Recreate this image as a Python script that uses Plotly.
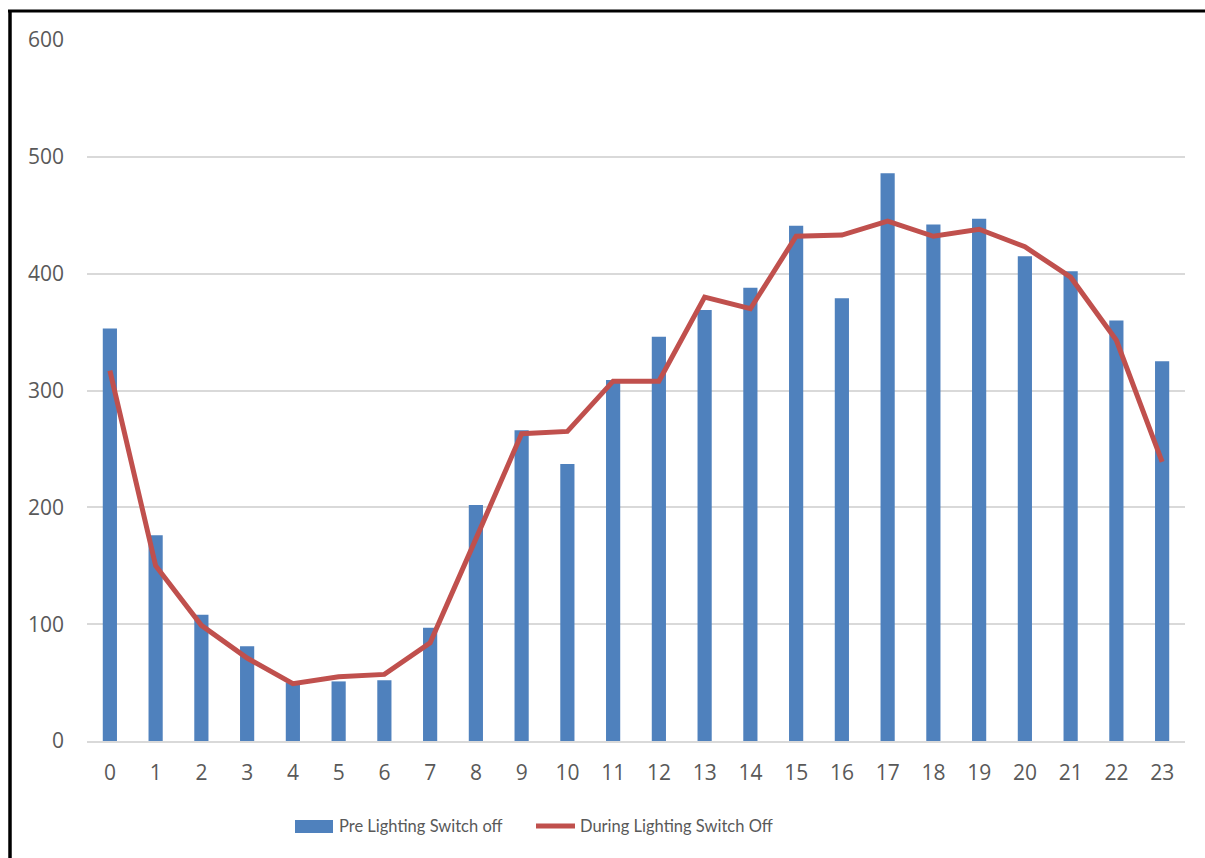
import plotly.graph_objects as go

hours = [str(h) for h in range(24)]
pre_switch_off = [353, 176, 108, 81, 50, 51, 52, 97, 202, 266, 237, 309,
                  346, 369, 388, 441, 379, 486, 442, 447, 415, 402, 360, 325]
during_switch_off = [317, 150, 99, 71, 49, 55, 57, 84, 173, 263, 265, 308,
                     308, 380, 370, 432, 433, 445, 432, 438, 423, 397, 343, 239]
y_ticks = [0, 100, 200, 300, 400, 500, 600]

BAR_NAME = "Pre Lighting Switch off"
LINE_NAME = "During Lighting Switch Off"
BLUE = "#4f81bd"
RED = "#c0504d"
TEXT = "#595959"
TICK_FONT = "Open Sans, Noto Sans, sans-serif"
LEGEND_FONT = "Lato, sans-serif"

W, H = 1205, 858
L, R, T, B = 87, 20, 40, 117
PW, PH = W - L - R, H - T - B


def px(x):
    return (x - L) / PW


def py(y):
    return (H - B - y) / PH


fig = go.Figure()
fig.add_trace(go.Bar(x=hours, y=pre_switch_off, name=BAR_NAME,
                     marker=dict(color=BLUE, line=dict(width=0)),
                     width=0.31, showlegend=False))
fig.add_trace(go.Scatter(x=hours, y=during_switch_off, name=LINE_NAME,
                         mode="lines", line=dict(color=RED, width=5),
                         showlegend=False))

shapes = [
    # outer frame (left and top edges)
    dict(type="line", xref="paper", yref="paper", x0=px(10), x1=px(10),
         y0=py(11), y1=py(900), line=dict(color="black", width=3.5)),
    dict(type="line", xref="paper", yref="paper", x0=px(8), x1=px(1240),
         y0=py(11), y1=py(11), line=dict(color="black", width=3)),
    # legend keys
    dict(type="rect", xref="paper", yref="paper", x0=px(295), x1=px(333),
         y0=py(833), y1=py(820), fillcolor=BLUE, line=dict(width=0)),
    dict(type="line", xref="paper", yref="paper", x0=px(536), x1=px(575),
         y0=py(826), y1=py(826), line=dict(color=RED, width=5)),
]

annotations = [
    dict(xref="paper", yref="paper", x=px(337), y=py(826), text=BAR_NAME,
         showarrow=False, xanchor="left", yanchor="middle",
         font=dict(family=LEGEND_FONT, size=16.5, color=TEXT)),
    dict(xref="paper", yref="paper", x=px(578), y=py(826), text=LINE_NAME,
         showarrow=False, xanchor="left", yanchor="middle",
         font=dict(family=LEGEND_FONT, size=16.5, color=TEXT)),
]

fig.update_layout(
    width=W, height=H,
    margin=dict(l=L, r=R, t=T, b=B, autoexpand=False),
    paper_bgcolor="white", plot_bgcolor="white",
    font=dict(family=TICK_FONT, size=21, color=TEXT),
    shapes=shapes,
    annotations=annotations,
    showlegend=False,
)
fig.update_xaxes(type="category", showgrid=False, showline=True,
                 linecolor="#d9d9d9", linewidth=1.5, ticks="",
                 ticklabelstandoff=12,
                 tickfont=dict(family=TICK_FONT, size=21, color=TEXT))
fig.update_yaxes(range=[0, 600], tickvals=y_ticks, showgrid=True,
                 gridcolor="#d9d9d9", gridwidth=1.5, zeroline=False,
                 showline=False, ticks="", ticklabelstandoff=22,
                 tickfont=dict(family=TICK_FONT, size=21, color=TEXT))

fig.write_html("out.html")
